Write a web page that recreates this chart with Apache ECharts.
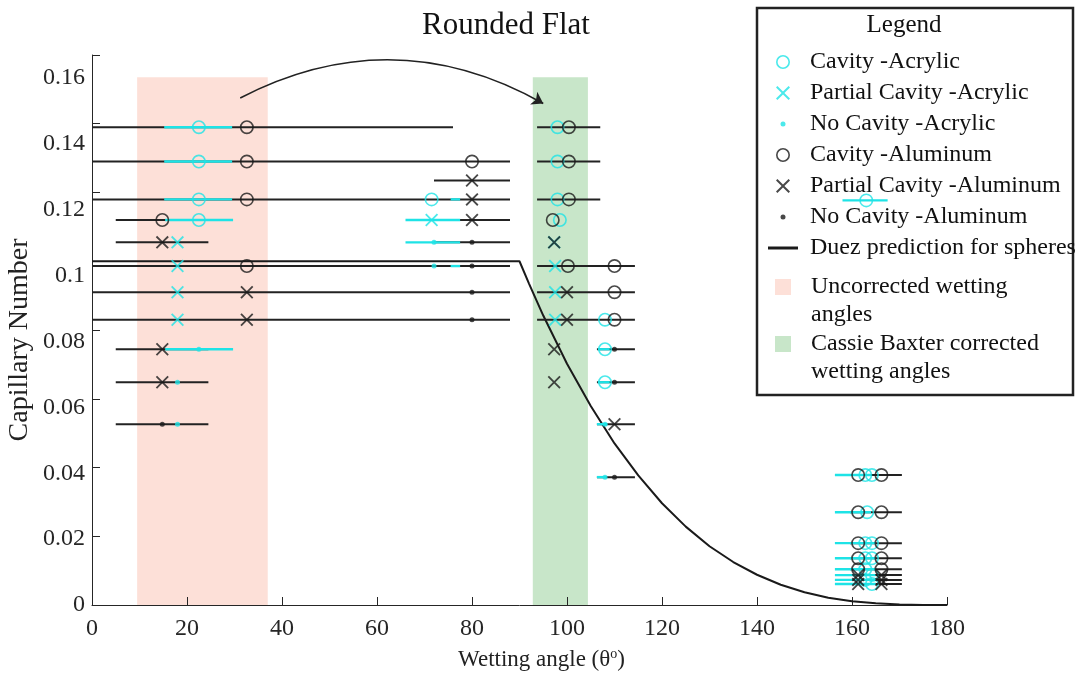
<!DOCTYPE html>
<html>
<head>
<meta charset="utf-8">
<title>Rounded Flat</title>
<script src="https://cdn.jsdelivr.net/npm/echarts@6/dist/echarts.min.js"></script>
<style>
  html, body { margin: 0; padding: 0; background: #fff; }
  #chart { width: 1078px; height: 677px; }
</style>
</head>
<body>
<div id="chart"></div>
<script>
// tick values
const xTicks = [0, 20, 40, 60, 80, 100, 120, 140, 160, 180];
const yTicks = [0, 0.02, 0.04, 0.06, 0.08, 0.1, 0.12, 0.14, 0.16];

// markers: [wetting angle, capillary number]
const cavityAcrylic = [
  [22.5, 0.139], [22.5, 0.129], [22.5, 0.118], [22.5, 0.112],
  [71.5, 0.118],
  [98, 0.139], [98, 0.129], [98, 0.118], [98.5, 0.112],
  [108, 0.083], [108, 0.0744], [108, 0.0648],
  [162.8, 0.0378], [164.2, 0.0378], [163.2, 0.027], [162.8, 0.018], [164.2, 0.018],
  [162.8, 0.0136], [164.2, 0.0136], [162.8, 0.0104], [164.2, 0.0087], [162.8, 0.0073], [164.2, 0.0061],
  [163, 0.1177]
];
const partialAcrylic = [
  [18, 0.1055], [18, 0.0986], [18, 0.091], [18, 0.083],
  [71.5, 0.112],
  [97.3, 0.1055], [97.5, 0.0986], [97.5, 0.091], [97.5, 0.083]
];
const noCavityAcrylic = [
  [22.5, 0.0744], [18, 0.0648], [18, 0.0526],
  [72, 0.1055], [72, 0.0986],
  [108, 0.0526], [108, 0.0372]
];
const cavityAluminum = [
  [32.6, 0.139], [32.6, 0.129], [32.6, 0.118], [14.8, 0.112], [32.6, 0.0986],
  [80, 0.129],
  [100.4, 0.139], [100.4, 0.129], [100.4, 0.118], [97, 0.112], [100.2, 0.0986],
  [110, 0.0986], [110, 0.091], [110, 0.083],
  [161.3, 0.0378], [166.2, 0.0378], [161.3, 0.027], [166.2, 0.027], [161.3, 0.018], [166.2, 0.018],
  [161.3, 0.0136], [166.2, 0.0136], [161.3, 0.0104], [166.2, 0.0104]
];
const partialAluminum = [
  [14.8, 0.1055], [32.6, 0.091], [32.6, 0.083], [14.8, 0.0744], [14.8, 0.0648],
  [80, 0.1235], [80, 0.118], [80, 0.112],
  [97.3, 0.1055], [100, 0.091], [100, 0.083], [97.3, 0.0744], [97.3, 0.0648],
  [110, 0.0526],
  [161.3, 0.0087], [166.2, 0.0087], [161.3, 0.0073], [166.2, 0.0073], [161.3, 0.0061], [166.2, 0.0061]
];
const noCavityAluminum = [
  [14.8, 0.0526],
  [80, 0.1055], [80, 0.0986], [80, 0.091], [80, 0.083],
  [110, 0.0744], [110, 0.0648], [110, 0.0372]
];

// error bars: [low angle, capillary number, high angle]
const aluminumBars = [
  [0, 0.139, 76], [93.7, 0.139, 107],
  [0, 0.129, 88], [93.7, 0.129, 107],
  [72, 0.1235, 88],
  [0, 0.118, 88], [93.7, 0.118, 107],
  [5, 0.112, 24.5], [72, 0.112, 88],
  [5, 0.1055, 24.5], [72, 0.1055, 88],
  [0, 0.0986, 88], [93.7, 0.0986, 114.3],
  [0, 0.091, 88], [93.7, 0.091, 114.3],
  [0, 0.083, 88], [93.7, 0.083, 114.3],
  [5, 0.0744, 24.5], [106.3, 0.0744, 114.3],
  [5, 0.0648, 24.5], [106.3, 0.0648, 114.3],
  [5, 0.0526, 24.5], [106.3, 0.0526, 114.3],
  [106.3, 0.0372, 114.3],
  [159.6, 0.0378, 170.5], [159.6, 0.027, 170.5], [159.6, 0.018, 170.5], [159.6, 0.0136, 170.5],
  [159.6, 0.0104, 170.5], [159.6, 0.0087, 170.5], [159.6, 0.0073, 170.5], [159.6, 0.0061, 170.5]
];
const acrylicBars = [
  [15.2, 0.139, 29.5], [15.2, 0.129, 29.5], [15.2, 0.118, 29.5], [15.4, 0.112, 29.7],
  [75.5, 0.118, 77.5], [66, 0.112, 77.5], [66, 0.1055, 77.5], [75.5, 0.0986, 77.5],
  [15.4, 0.0744, 29.7],
  [106.5, 0.0744, 109], [106.5, 0.0648, 109], [106.3, 0.0526, 108.5], [106.3, 0.0372, 108.3],
  [156.4, 0.0378, 164], [156.4, 0.027, 164], [156.4, 0.018, 165], [156.4, 0.0136, 165],
  [156.4, 0.0104, 165], [156.4, 0.0087, 165], [156.4, 0.0073, 165], [156.4, 0.0061, 165],
  [158, 0.1177, 167.5]
];

// Duez prediction
const duezX = [0, 90, 92, 95, 100, 105, 110, 115, 120, 125, 130, 135, 140, 145, 150, 155, 160, 165, 170, 175, 180];
const duezY = [0.1, 0.1, 0.0935, 0.0842, 0.0702, 0.0579, 0.047, 0.0377, 0.0296, 0.0228, 0.0171, 0.0125,
  0.0088, 0.0059, 0.0037, 0.0021, 0.0011, 0.0005, 0.00014, 0.00002, 0];

// shaded wetting angle ranges: [from, top, to]
const uncorrectedBand = [[9.5, 0.1535, 37]];
const cassieBand = [[92.8, 0.1535, 104.4]];

// annotation arrow
const arrowPath = [[31.2, 0.1475], [95, 0.1459]];

const FONT = "'Liberation Serif', 'Times New Roman', serif";
const CYAN = '#1ee3e6';
const INK = '#1a1a1a';
const AXIS = '#262626';

const ring = 'path://M10,0 A10,10 0 1,1 10,20 A10,10 0 1,1 10,0 Z M10,2.3 A7.7,7.7 0 1,0 10,17.7 A7.7,7.7 0 1,0 10,2.3 Z';
const cross = 'path://M0,1 L1,0 L5,4 L9,0 L10,1 L6,5 L10,9 L9,10 L5,6 L1,10 L0,9 L4,5 Z';
const dotIcon = 'path://M0,0 M14,14 M4.5,7 A2.5,2.5 0 1,1 9.5,7 A2.5,2.5 0 1,1 4.5,7 Z';
const squareIcon = 'path://M0,0 L16,0 L16,16 L0,16 Z';
const lineIcon = 'path://M0,0 L30,0 L30,3 L0,3 Z';

function barRenderer(color, width) {
  return function (params, api) {
    const a = api.coord([api.value(0), api.value(1)]);
    const b = api.coord([api.value(2), api.value(1)]);
    return {
      type: 'line',
      shape: { x1: a[0], y1: a[1], x2: b[0], y2: b[1] },
      style: { stroke: color, lineWidth: width }
    };
  };
}

function bandRenderer(params, api) {
  const a = api.coord([api.value(0), api.value(1)]);
  const b = api.coord([api.value(2), 0]);
  return {
    type: 'rect',
    shape: { x: a[0], y: a[1], width: b[0] - a[0], height: b[1] - a[1] },
    style: { fill: api.visual('color') }
  };
}

function markers(name, data, symbol, size, color, z) {
  return {
    name: name,
    type: 'scatter',
    data: data,
    symbol: symbol,
    symbolSize: size,
    itemStyle: { color: color },
    silent: true,
    z: z
  };
}

const legendText = {
  fontFamily: FONT, fontSize: 24, color: '#111', lineHeight: 28, padding: [0, 0, 0, 7]
};

// two-line entries: a blank first line keeps the swatch level with the first text line
function twoLineLegend(name, top) {
  return {
    orient: 'vertical', left: 775, top: top, padding: 0,
    itemWidth: 32, itemHeight: 16, selectedMode: false,
    textStyle: legendText,
    formatter: function (n) { return ' \n' + n; },
    data: [{ name: name, icon: squareIcon }]
  };
}

const chart = echarts.init(document.getElementById('chart'));

const option = {
  animation: false,
  backgroundColor: '#fff',
  title: [
    {
      text: 'Rounded Flat', left: 506, top: 10, textAlign: 'center', padding: 0,
      textStyle: { fontFamily: FONT, fontSize: 31, fontWeight: 'normal', color: '#111' }
    },
    {
      text: 'Legend', left: 904, top: 13, textAlign: 'center', padding: 0,
      textStyle: { fontFamily: FONT, fontSize: 25, fontWeight: 'normal', color: '#111' }
    }
  ],
  graphic: [
    {
      type: 'rect', z: 1, silent: true,
      shape: { x: 757, y: 8, width: 316, height: 387 },
      style: { fill: '#fff', stroke: '#222', lineWidth: 2.5 }
    }
  ],
  legend: [
    {
      orient: 'vertical', left: 768, top: 48, padding: 0, itemGap: 3,
      itemWidth: 30, itemHeight: 14, selectedMode: false,
      textStyle: legendText,
      data: [
        { name: 'Cavity -Acrylic' },
        { name: 'Partial Cavity -Acrylic' },
        { name: 'No Cavity -Acrylic', icon: dotIcon },
        { name: 'Cavity -Aluminum' },
        { name: 'Partial Cavity -Aluminum' },
        { name: 'No Cavity -Aluminum', icon: dotIcon },
        { name: 'Duez prediction for spheres', icon: lineIcon }
      ]
    },
    twoLineLegend('Uncorrected wetting\nangles', 245),
    twoLineLegend('Cassie Baxter corrected\nwetting angles', 302)
  ],
  grid: { left: 92, right: 131, top: 55, bottom: 72, outerBoundsMode: 'none' },
  xAxis: {
    type: 'value',
    min: xTicks[0], max: xTicks[xTicks.length - 1], interval: xTicks[1] - xTicks[0],
    name: 'Wetting angle (θ{sup|o})',
    nameLocation: 'middle', nameGap: 42,
    nameTextStyle: {
      fontFamily: FONT, fontSize: 23, color: '#222', lineHeight: 26, padding: [0, 0, 0, 44],
      rich: { sup: { fontFamily: FONT, fontSize: 14, color: '#222', verticalAlign: 'top', lineHeight: 14 } }
    },
    axisLine: { onZero: false, lineStyle: { color: AXIS, width: 1 } },
    axisTick: { inside: true, length: 8, lineStyle: { color: AXIS } },
    axisLabel: { fontFamily: FONT, fontSize: 24, color: AXIS, margin: 12 },
    splitLine: { show: false }
  },
  yAxis: [
    {
      type: 'value',
      min: yTicks[0], max: yTicks[yTicks.length - 1], interval: yTicks[1] - yTicks[0],
      name: 'Capillary Number', nameLocation: 'middle', nameGap: 58,
      nameTextStyle: { fontFamily: FONT, fontSize: 28, color: '#222', padding: [0, 20, 0, 0] },
      axisLine: { onZero: false, lineStyle: { color: AXIS, width: 1 } },
      axisTick: { inside: true, length: 8, lineStyle: { color: AXIS } },
      axisLabel: { show: false },
      splitLine: { show: false }
    },
    {
      // tick labels of the figure sit on a slightly shorter scale than its tick marks
      type: 'value',
      min: yTicks[0], max: yTicks[yTicks.length - 1] * 550 / 527, interval: yTicks[1] - yTicks[0],
      position: 'left',
      axisLine: { show: false },
      axisTick: { show: false },
      splitLine: { show: false },
      axisLabel: {
        fontFamily: FONT, fontSize: 24, color: AXIS, margin: 7,
        formatter: function (v) { return v > yTicks[yTicks.length - 1] + 1e-9 ? '' : String(+v.toFixed(2)); }
      }
    }
  ],
  series: [
    {
      name: 'Uncorrected wetting\nangles', type: 'custom', renderItem: bandRenderer,
      data: uncorrectedBand, itemStyle: { color: '#fde0d8' }, silent: true, z: 0
    },
    {
      name: 'Cassie Baxter corrected\nwetting angles', type: 'custom', renderItem: bandRenderer,
      data: cassieBand, itemStyle: { color: '#c8e6c9' }, silent: true, z: 0
    },
    {
      name: 'Duez prediction for spheres', type: 'line',
      data: duezX.map((x, i) => [x, duezY[i]]),
      symbol: 'none', lineStyle: { color: INK, width: 2 }, itemStyle: { color: INK },
      silent: true, z: 3
    },
    {
      type: 'lines', coordinateSystem: 'cartesian2d', silent: true, z: 3,
      data: [{ coords: arrowPath }],
      symbol: ['none', 'arrow'], symbolSize: 11,
      lineStyle: { color: '#222', width: 1.6, curveness: 0.27, opacity: 1 }
    },
    {
      type: 'custom', renderItem: barRenderer('#222', 2), data: aluminumBars, silent: true, z: 4
    },
    {
      type: 'custom', renderItem: barRenderer(CYAN, 2.4), data: acrylicBars, silent: true, z: 5
    },
    markers('Cavity -Acrylic', cavityAcrylic, ring, 14, CYAN, 6),
    markers('Partial Cavity -Acrylic', partialAcrylic, cross, 13, CYAN, 6),
    markers('No Cavity -Acrylic', noCavityAcrylic, 'circle', 5, CYAN, 6),
    markers('Cavity -Aluminum', cavityAluminum, ring, 14, INK, 7),
    markers('Partial Cavity -Aluminum', partialAluminum, cross, 13, INK, 7),
    markers('No Cavity -Aluminum', noCavityAluminum, 'circle', 5, INK, 7)
  ]
};

chart.setOption(option);
</script>
</body>
</html>
